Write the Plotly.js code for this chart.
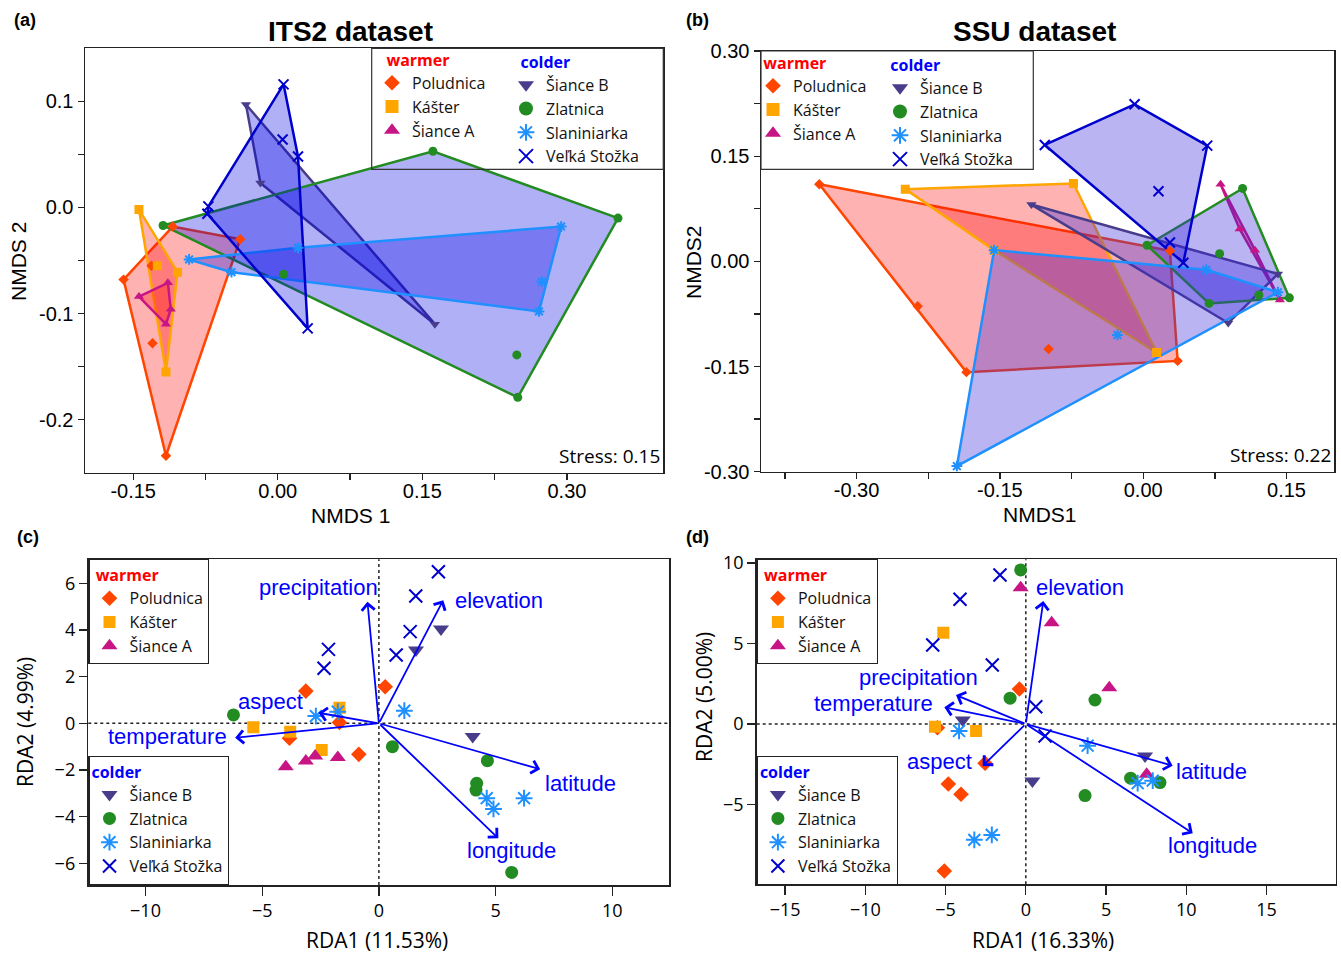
<!DOCTYPE html>
<html><head><meta charset="utf-8">
<script src="https://cdn.plot.ly/plotly-3.0.1.min.js"></script>
<style>html,body{margin:0;padding:0;background:#fff}#chart{width:1341px;height:955px}</style>
</head><body><div id="chart"></div>
<script>
// ---------------- DATA ----------------
const groupNames = ['Poludnica','Kášter','Šiance A','Šiance B','Zlatnica','Slaniniarka','Veľká Stožka'];
const warmerGroups = ['Poludnica','Kášter','Šiance A'];

// (a) ITS2 NMDS, per group (order as groupNames)
const its2X = [
  [-0.160,-0.116,-0.039,-0.109,-0.130,-0.131],
  [-0.144,-0.125,-0.104,-0.116],
  [-0.114,-0.144,-0.116,-0.111],
  [-0.033,-0.018,0.163],
  [-0.119,0.161,0.353,0.249,0.248,0.006],
  [-0.092,-0.048,0.021,0.294,0.274,0.271],
  [0.006,0.005,0.021,-0.072,-0.073,0.031]
];
const its2Y = [
  [-0.068,-0.234,-0.030,-0.018,-0.128,-0.055],
  [-0.002,-0.055,-0.061,-0.155],
  [-0.071,-0.084,-0.110,-0.096],
  [0.097,0.023,-0.110],
  [-0.017,0.053,-0.010,-0.179,-0.139,-0.063],
  [-0.049,-0.061,-0.038,-0.018,-0.070,-0.098],
  [0.116,0.064,0.048,0.001,-0.006,-0.114]
];
// (b) SSU NMDS
const ssuX = [
  [-0.339,-0.236,-0.185,-0.099,0.028,0.036],
  [-0.249,-0.073,0.014,-0.156],
  [0.081,0.101,0.117,0.143],
  [-0.117,0.141,0.089],
  [0.104,0.153,0.121,0.069,0.004,0.080],
  [-0.195,-0.156,-0.027,0.066,0.141],
  [-0.103,-0.009,0.067,0.016,0.028,0.042]
];
const ssuY = [
  [0.110,-0.064,-0.158,-0.125,0.015,-0.142],
  [0.103,0.111,-0.130,0.016],
  [0.110,0.046,0.016,-0.055],
  [0.081,-0.018,-0.088],
  [0.104,-0.052,-0.048,-0.060,0.023,0.011],
  [-0.292,0.016,-0.105,-0.012,-0.044],
  [0.166,0.224,0.165,0.100,0.027,-0.002]
];
// (c) ITS2 RDA site scores
const rdaItsX = [
  [-3.13,-3.83,-1.69,-0.86,0.27],
  [-5.38,-3.80,-2.45,-1.69],
  [-3.99,-3.13,-2.73,-1.76],
  [2.66,1.59,4.02],
  [-6.23,0.58,4.65,4.19,4.16,5.69],
  [-2.70,-1.76,1.09,4.62,4.91,6.22],
  [-2.16,-2.35,2.55,1.58,1.34,0.74]
];
const rdaItsY = [
  [1.38,-0.64,0.04,-1.33,1.57],
  [-0.17,-0.36,-1.14,0.67],
  [-1.86,-1.62,-1.40,-1.47],
  [4.04,3.14,-0.57],
  [0.36,-1.00,-1.60,-2.57,-2.86,-6.39],
  [0.31,0.50,0.54,-3.21,-3.67,-3.21],
  [3.17,2.36,6.50,5.46,3.93,2.93]
];
const envNamesIts = ['precipitation','elevation','latitude','longitude','aspect','temperature'];
const envItsX = [-0.49,2.76,6.91,5.12,-2.59,-6.16];
const envItsY = [5.21,5.28,-1.97,-4.93,0.45,-0.62];
// (d) SSU RDA site scores
const rdaSsuX = [
  [-0.40,-5.51,-2.54,-4.83,-4.04,-5.08],
  [-5.14,-5.66,-3.10],
  [-0.32,1.61,5.20,7.53],
  [-3.93,0.41,7.43],
  [-0.32,-0.98,4.31,6.53,8.36,3.69],
  [-4.16,-3.21,-2.12,3.85,6.97,7.91],
  [-1.61,-4.10,-5.80,-2.09,0.62,1.20]
];
const rdaSsuY = [
  [2.17,-0.23,-2.44,-3.73,-4.37,-9.13],
  [5.67,-0.17,-0.43],
  [8.47,6.29,2.25,-3.12],
  [0.25,-3.54,-1.99],
  [9.57,1.60,1.49,-3.37,-3.64,-4.45],
  [-0.43,-7.20,-6.89,-1.35,-3.68,-3.52],
  [9.25,7.75,4.91,3.66,1.07,-0.75]
];
const envNamesSsu = ['elevation','latitude','longitude','precipitation','temperature','aspect'];
const envSsuX = [1.09,9.15,10.40,-4.35,-5.08,-2.69];
const envSsuY = [7.64,-2.59,-6.79,1.80,1.04,-2.61];

const stressIts = '0.15';
const stressSsu = '0.22';

// tick labels
const tickAx = [-0.15,-0.075,0,0.075,0.15,0.225,0.30];
const tickAxText = ['-0.15','','0.00','','0.15','','0.30'];
const tickAy = [-0.2,-0.15,-0.1,-0.05,0,0.05,0.1];
const tickAyText = ['-0.2','','-0.1','','0.0','','0.1'];
const tickBx = [-0.375,-0.30,-0.225,-0.15,-0.075,0,0.075,0.15];
const tickBxText = ['','-0.30','','-0.15','','0.00','','0.15'];
const tickBy = [-0.30,-0.225,-0.15,-0.075,0,0.075,0.15,0.225,0.30];
const tickByText = ['-0.30','','-0.15','','0.00','','0.15','','0.30'];

// ---------------- STYLE ----------------
const W = 1341, H = 955;
const colors = ['#FF4500','#FFA500','#C71585','#483D8B','#228B22','#1E90FF','#0000CD'];
const symbols = ['diamond','square','triangle-up','triangle-down','circle','asterisk-open','x-thin-open'];
const smallSizes = [8,9,9,9,9,9,10];
const bigSizes = [12,12,14,14,13,14,13];
const legSizes = [12,13,14,14,14,14,14];
const warmFill = 'rgba(255,0,0,0.3)';
const coldFillA = 'rgba(0,0,230,0.31)';
const coldFillB = 'rgba(60,40,220,0.35)';
const SANS = 'Liberation Sans, Arial, sans-serif';
const MYR = 'Open Sans, Noto Sans, sans-serif';
const NB = '\u00A0';

function isOpen(g){ return symbols[g].indexOf('open') >= 0; }
function mk(g, size){
  return {symbol: symbols[g], size: size, color: colors[g],
          line: {color: colors[g], width: isOpen(g) ? 2 : 0}};
}

function hull(xs, ys){
  const pts = xs.map((x,i)=>[x,ys[i]]).sort((a,b)=>a[0]-b[0]||a[1]-b[1]);
  const cross=(o,a,b)=>(a[0]-o[0])*(b[1]-o[1])-(a[1]-o[1])*(b[0]-o[0]);
  const lower=[]; for(const p of pts){while(lower.length>=2&&cross(lower[lower.length-2],lower[lower.length-1],p)<=0)lower.pop();lower.push(p);}
  const upper=[]; for(let i=pts.length-1;i>=0;i--){const p=pts[i];while(upper.length>=2&&cross(upper[upper.length-2],upper[upper.length-1],p)<=0)upper.pop();upper.push(p);}
  upper.pop(); lower.pop();
  const h = lower.concat(upper); h.push(h[0]); return h;
}

const traces = [];
function nmds(X, Y, xa, ya, coldFill, legW, legC){
  for (let g=0; g<7; g++){
    const h = hull(X[g], Y[g]);
    traces.push({type:'scatter', mode:'lines', x:h.map(p=>p[0]), y:h.map(p=>p[1]), xaxis:xa, yaxis:ya,
      fill:'toself', fillcolor: g<3 ? warmFill : coldFill, line:{color:colors[g], width:2.5},
      showlegend:false, hoverinfo:'skip'});
  }
  for (let g=0; g<7; g++){
    traces.push({type:'scatter', mode:'markers', x:X[g], y:Y[g], xaxis:xa, yaxis:ya,
      marker: mk(g, smallSizes[g]), name: groupNames[g], showlegend:false});
  }
  for (let g=0; g<7; g++){
    traces.push({type:'scatter', mode:'markers', x:[null], y:[null], xaxis:xa, yaxis:ya,
      marker: mk(g, legSizes[g]), name: groupNames[g], legend: g<3 ? legW : legC, showlegend:true});
  }
}
function rda(X, Y, xa, ya, legW, legC){
  for (let g=0; g<7; g++){
    traces.push({type:'scatter', mode:'markers', x:X[g], y:Y[g], xaxis:xa, yaxis:ya,
      marker: mk(g, bigSizes[g]), name: groupNames[g], legend: g<3 ? legW : legC, showlegend:true});
  }
}
nmds(its2X, its2Y, 'x', 'y', coldFillA, 'legend', 'legend2');
nmds(ssuX, ssuY, 'x2', 'y2', coldFillB, 'legend3', 'legend4');
rda(rdaItsX, rdaItsY, 'x3', 'y3', 'legend5', 'legend6');
rda(rdaSsuX, rdaSsuY, 'x4', 'y4', 'legend7', 'legend8');

function P(px){ return px / W; }
function Q(py){ return 1 - py / H; }

const baseAx = {showline:true, mirror:true, linecolor:'#222', linewidth:1.5, ticks:'outside', ticklen:6,
  tickwidth:1.3, tickcolor:'#222', showgrid:false, zeroline:false, fixedrange:true, automargin:false};
function ax(o){ return Object.assign({}, baseAx, o); }

function leg(px, py, title, tcolor, boxed, indent){
  return {x:P(px), y:Q(py), xanchor:'left', yanchor:'top',
    bgcolor: boxed ? '#ffffff' : 'rgba(0,0,0,0)', bordercolor:'#222', borderwidth: boxed ? 1.2 : 0,
    font:{family:MYR, size:16, color:'#111'},
    title:{text: NB.repeat(indent) + '<b>'+title+'</b>', font:{family:MYR, size:16, color:tcolor}},
    tracegroupgap:0, itemclick:false, itemdoubleclick:false};
}

function ann(px, py, text, font, extra){
  return Object.assign({xref:'paper', yref:'paper', x:P(px), y:Q(py), xanchor:'center', yanchor:'middle',
    text:text, showarrow:false, font:font}, extra||{});
}

const annotations = [
  ann(350, 32, '<b>ITS2 dataset</b>', {family:SANS, size:28, color:'#000'}),
  ann(1034, 32, '<b>SSU dataset</b>', {family:SANS, size:28, color:'#000'}),
  ann(25, 20, '<b>(a)</b>', {family:SANS, size:18, color:'#000'}),
  ann(697, 20, '<b>(b)</b>', {family:SANS, size:18, color:'#000'}),
  ann(28, 537, '<b>(c)</b>', {family:SANS, size:18, color:'#000'}),
  ann(697, 537, '<b>(d)</b>', {family:SANS, size:18, color:'#000'}),
  ann(350, 515, 'NMDS 1', {family:SANS, size:21, color:'#000'}),
  ann(18, 262, 'NMDS 2', {family:SANS, size:21, color:'#000'}, {textangle:-90}),
  ann(1040, 514, 'NMDS1', {family:SANS, size:21, color:'#000'}),
  ann(693, 262, 'NMDS2', {family:SANS, size:21, color:'#000'}, {textangle:-90}),
  ann(377, 940, 'RDA1 (11.53%)', {family:MYR, size:21, color:'#000'}),
  ann(25, 722, 'RDA2 (4.99%)', {family:MYR, size:21, color:'#000'}, {textangle:-90}),
  ann(1043, 940, 'RDA1 (16.33%)', {family:MYR, size:21, color:'#000'}),
  ann(704, 697, 'RDA2 (5.00%)', {family:MYR, size:21, color:'#000'}, {textangle:-90}),
  {xref:'x domain', yref:'y domain', x:0.997, y:0.003, xanchor:'right', yanchor:'bottom', showarrow:false,
   text:'Stress: '+stressIts, font:{family:MYR, size:19, color:'#000'}},
  {xref:'x2 domain', yref:'y2 domain', x:0.997, y:0.003, xanchor:'right', yanchor:'bottom', showarrow:false,
   text:'Stress: '+stressSsu, font:{family:MYR, size:19, color:'#000'}}
];

function arrows(X, Y, names, xa, ya, offs){
  names.forEach((n,i)=>{
    annotations.push({x:X[i], y:Y[i], ax:0, ay:0, xref:xa, yref:ya, axref:xa, ayref:ya, text:'',
      showarrow:true, arrowhead:4, arrowsize:1.4, arrowwidth:1.8, arrowcolor:'#0000FF', standoff:0, startstandoff:0});
    annotations.push({x:X[i], y:Y[i], xref:xa, yref:ya, text:n, showarrow:false, xanchor:'center', yanchor:'middle',
      xshift:offs[i][0], yshift:offs[i][1], font:{family:SANS, size:22, color:'#0000FF'}});
  });
}
const offsIts = [[-49,14],[56,0],[40,-14],[13,-12],[-48,11],[-68,1]];
const offsSsu = [[37,13],[39,-6],[20,-12],[-38,18],[-71,4],[-43,4]];
arrows(envItsX, envItsY, envNamesIts, 'x3', 'y3', offsIts);
arrows(envSsuX, envSsuY, envNamesSsu, 'x4', 'y4', offsSsu);

const dot = {dash:'dot', width:1.5, color:'#222'};
const shapes = [
  {type:'rect', xref:'paper', yref:'paper', x0:P(371.7), x1:P(663.3), y0:Q(169.3), y1:Q(48.3), line:{color:'#333', width:1.2}, layer:'above'},
  {type:'rect', xref:'paper', yref:'paper', x0:P(761), x1:P(1033.3), y0:Q(169.3), y1:Q(51), line:{color:'#333', width:1.2}, layer:'above'},
  {type:'line', xref:'x3', yref:'y3 domain', x0:0, x1:0, y0:0, y1:1, line:dot, layer:'below'},
  {type:'line', xref:'x3 domain', yref:'y3', x0:0, x1:1, y0:0, y1:0, line:dot, layer:'below'},
  {type:'line', xref:'x4', yref:'y4 domain', x0:0, x1:0, y0:0, y1:1, line:dot, layer:'below'},
  {type:'line', xref:'x4 domain', yref:'y4', x0:0, x1:1, y0:0, y1:0, line:dot, layer:'below'}
];

const fA = {family:SANS, size:20, color:'#000'};
const fC = {family:MYR, size:18, color:'#000'};

const layout = {
  width:W, height:H, margin:{l:0,r:0,t:0,b:0}, paper_bgcolor:'#fff', plot_bgcolor:'#fff',
  showlegend:true,
  xaxis: ax({domain:[P(85),P(663.3)], range:[-0.2,0.4], anchor:'y', tickmode:'array', tickvals:tickAx, ticktext:tickAxText, tickfont:fA, ticklabelstandoff:-6}),
  yaxis: ax({domain:[Q(472.7),Q(48.3)], range:[-0.25,0.15], anchor:'x', tickmode:'array', tickvals:tickAy, ticktext:tickAyText, tickfont:fA}),
  xaxis2: ax({domain:[P(761),P(1334.3)], range:[-0.4,0.2], anchor:'y2', tickmode:'array', tickvals:tickBx, ticktext:tickBxText, tickfont:fA, ticklabelstandoff:-6}),
  yaxis2: ax({domain:[Q(471.7),Q(51)], range:[-0.3,0.3], anchor:'x2', tickmode:'array', tickvals:tickBy, ticktext:tickByText, tickfont:fA}),
  xaxis3: ax({domain:[P(88.3),P(669)], range:[-12.45,12.43], anchor:'y3', tickmode:'linear', tick0:0, dtick:5, tickfont:fC, ticklen:9}),
  yaxis3: ax({domain:[Q(885),Q(559.3)], range:[-6.93,7.03], anchor:'x3', tickmode:'linear', tick0:0, dtick:2, tickfont:fC, ticklen:8}),
  xaxis4: ax({domain:[P(756.7),P(1335.7)], range:[-16.77,19.31], anchor:'y4', tickmode:'linear', tick0:0, dtick:5, tickfont:fC, ticklen:9}),
  yaxis4: ax({domain:[Q(884.3),Q(559.3)], range:[-9.96,10.23], anchor:'x4', tickmode:'linear', tick0:0, dtick:5, tickfont:fC, ticklen:8}),
  legend: leg(372, 45, 'warmer', '#FF0000', false, 3),
  legend2: leg(506, 47, 'colder', '#0000FF', false, 3),
  legend3: leg(753, 48, 'warmer', '#FF0000', false, 2),
  legend4: leg(880, 50, 'colder', '#0000FF', false, 2),
  legend5: leg(88.3, 559.3, 'warmer', '#FF0000', true, 1),
  legend6: leg(88.3, 755.7, 'colder', '#0000FF', true, 0),
  legend7: leg(756.7, 559.3, 'warmer', '#FF0000', true, 1),
  legend8: leg(756.7, 755.7, 'colder', '#0000FF', true, 0),
  annotations: annotations,
  shapes: shapes
};

Plotly.newPlot('chart', traces, layout, {staticPlot:true, displayModeBar:false});
</script>
</body></html>
